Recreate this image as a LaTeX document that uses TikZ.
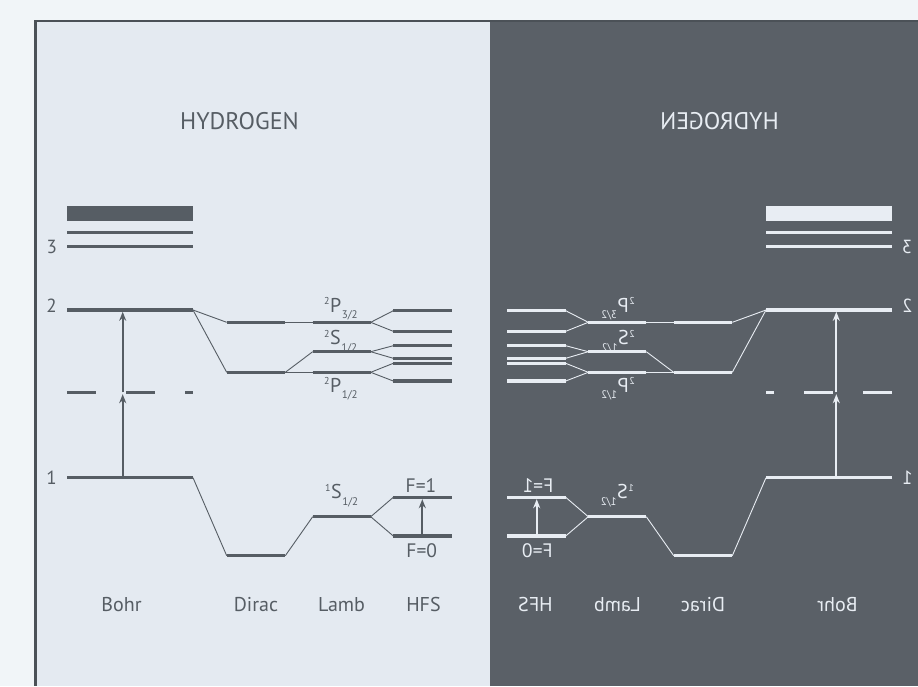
\documentclass[tikz,border=0pt]{standalone}
\usepackage{fontspec}
\setmainfont{PT Sans}
\usetikzlibrary{arrows.meta}
\definecolor{outerbg}{HTML}{F1F5F8}
\definecolor{lightpanel}{HTML}{E4EAF1}
\definecolor{darkpanel}{HTML}{5A6067}
\definecolor{framecol}{HTML}{4B5157}
\definecolor{darkink}{HTML}{565D64}
\definecolor{lightink}{HTML}{E8EDF3}
\colorlet{ink}{darkink}

\newcommand\lterm[3]{\raisebox{7.2pt}{\fontsize{10}{10}\selectfont#1}\kern0.4pt{\fontsize{20}{20}\selectfont#2}\kern0.6pt\raisebox{-6.8pt}{\fontsize{11}{11}\selectfont#3}}

\tikzset{
  lvl/.style={draw=ink, line width=3.4pt},
  conn/.style={draw=ink, line width=0.9pt},
  arr/.style={draw=ink, line width=1.7pt, -{Stealth[length=9pt,width=7pt]}},
  txt/.style={text=ink, inner sep=0pt, transform shape},
  titletxt/.style={txt, font=\fontsize{24}{24}\selectfont},
  numtxt/.style={txt, font=\fontsize{19}{19}\selectfont},
  captxt/.style={txt, font=\fontsize{20}{20}\selectfont},
  ftxt/.style={txt, font=\fontsize{19.5}{20}\selectfont},
}

\newcommand\hside{%
  % title
  \node[titletxt, anchor=base] (title) at (239.5,129) {HYDROGEN};
  % Bohr levels
  \fill[ink] (67,205.7) rectangle (193,221);
  \coordinate (b3bl) at (67,232.3); \coordinate (b3br) at (193,232.3);
  \coordinate (b3l) at (67,246.7);  \coordinate (b3r) at (193,246.7);
  \coordinate (b2l) at (67,310);    \coordinate (b2r) at (193,310);
  \coordinate (b1l) at (67,477.7);  \coordinate (b1r) at (193,477.7);
  \draw[lvl] (b3bl) -- (b3br);
  \draw[lvl] (b3l) -- (b3r);
  \draw[lvl] (b2l) -- (b2r);
  \draw[lvl] (b1l) -- (b1r);
  \draw[lvl] (67,392.3) -- (96,392.3) (126,392.3) -- (155.3,392.3) (185,392.3) -- (193,392.3);
  \node[numtxt, anchor=base] (n3) at (51.7,253) {3};
  \node[numtxt, anchor=base] (n2) at (51.5,312.5) {2};
  \node[numtxt, anchor=base] (n1) at (51.5,484) {1};
  % Bohr arrows
  \coordinate (a0) at (122.7,477.7);
  \coordinate (a1) at (122.7,394.2);
  \coordinate (a1s) at (122.7,392.3);
  \coordinate (a2) at (122.7,311.8);
  \draw[arr] (a0) -- (a1);
  \draw[arr] (a1s) -- (a2);
  % Dirac levels
  \coordinate (duL) at (226.7,322.3); \coordinate (duR) at (285.3,322.3);
  \coordinate (dlL) at (226.7,372.3); \coordinate (dlR) at (285.3,372.3);
  \coordinate (d1L) at (226.7,555.7); \coordinate (d1R) at (285.3,555.7);
  \draw[lvl] (duL) -- (duR);
  \draw[lvl] (dlL) -- (dlR);
  \draw[lvl] (d1L) -- (d1R);
  % Lamb levels
  \coordinate (p3L) at (312.7,322.3); \coordinate (p3R) at (370.7,322.3);
  \coordinate (s2L) at (312.7,351.7); \coordinate (s2R) at (370.7,351.7);
  \coordinate (p1L) at (312.7,372.3); \coordinate (p1R) at (370.7,372.3);
  \coordinate (s1L) at (312.7,516.7); \coordinate (s1R) at (370.7,516.7);
  \draw[lvl] (p3L) -- (p3R);
  \draw[lvl] (s2L) -- (s2R);
  \draw[lvl] (p1L) -- (p1R);
  \draw[lvl] (s1L) -- (s1R);
  % HFS levels
  \foreach \nm/\yy in {h1/310.7,h2/331.3,h3/345.7,h4/358.3,h5/363.3,h6/381,hf1/497.3,hf0/536}{
    \coordinate (\nm L) at (393.3,\yy); \coordinate (\nm R) at (451.7,\yy);
    \draw[lvl] (\nm L) -- (\nm R);
  }
  % connectors
  \draw[conn] (b2r) -- (duL);
  \draw[conn] (b2r) -- (dlL);
  \draw[conn] (b1r) -- (d1L);
  \draw[conn] (duR) -- (p3L);
  \draw[conn] (dlR) -- (s2L);
  \draw[conn] (dlR) -- (p1L);
  \draw[conn] (d1R) -- (s1L);
  \draw[conn] (p3R) -- (h1L);
  \draw[conn] (p3R) -- (h2L);
  \draw[conn] (s2R) -- (h3L);
  \draw[conn] (s2R) -- (h4L);
  \draw[conn] (p1R) -- (h5L);
  \draw[conn] (p1R) -- (h6L);
  \draw[conn] (s1R) -- (hf1L);
  \draw[conn] (s1R) -- (hf0L);
  % HFS arrow
  \coordinate (fa0) at (422.3,536);
  \coordinate (fa1) at (422.3,499.2);
  \draw[arr] (fa0) -- (fa1);
  % term labels
  \node[txt, anchor=base west] (tp3) at (324,312) {\lterm{2}{P}{3/2}};
  \node[txt, anchor=base west] (ts2) at (324,344.3) {\lterm{2}{S}{1/2}};
  \node[txt, anchor=base west] (tp1) at (324,392) {\lterm{2}{P}{1/2}};
  \node[txt, anchor=base west] (ts1) at (325,498.5) {\lterm{1}{S}{1/2}};
  \node[ftxt, anchor=base] (tf1) at (421,492) {F=1};
  \node[ftxt, anchor=base] (tf0) at (421.7,557) {F=0};
  % captions
  \node[captxt, anchor=base] (cb) at (121.5,611) {Bohr};
  \node[captxt, anchor=base] (cd) at (256,611) {Dirac};
  \node[captxt, anchor=base] (cl) at (341.5,611) {Lamb};
  \node[captxt, anchor=base] (ch) at (423.5,611) {HFS};
}

\begin{document}
\begin{tikzpicture}[x=1pt,y=-1pt]
  \useasboundingbox (0,0) rectangle (918,686);
  \fill[outerbg] (0,0) rectangle (918,686);
  \fill[lightpanel] (36,22) rectangle (490,686);
  \fill[darkpanel] (490,22) rectangle (918,686);
  \fill[framecol] (34,20) rectangle (918,22.3);
  \fill[framecol] (34,20) rectangle (36.5,686);
  \begin{scope}
    \colorlet{ink}{darkink}
    \hside
  \end{scope}
  \begin{scope}[xshift=959pt, xscale=-1]
    \colorlet{ink}{lightink}
    \hside
  \end{scope}
\end{tikzpicture}
\end{document}
